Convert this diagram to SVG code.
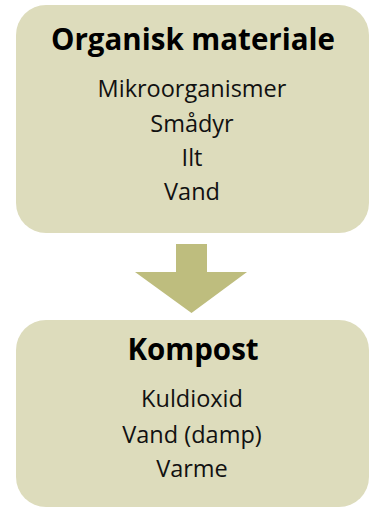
<svg xmlns="http://www.w3.org/2000/svg" width="370" height="508" viewBox="0 0 370 508">
<style>
.box{fill:#dddcbc}
.arrow{fill:#bebd7e}
.t{font-family:"Open Sans","Liberation Sans",sans-serif;font-weight:bold;font-size:29.5px;fill:#000;text-anchor:middle}
.b{font-family:"Open Sans","Liberation Sans",sans-serif;font-size:23.5px;fill:#111;text-anchor:middle}
</style>
<g id="node-organisk">
<rect class="box" x="16" y="5" width="353" height="228" rx="30" ry="30"/>
<text class="t" x="193" y="50">Organisk materiale</text>
<text class="b" x="192" y="97">Mikroorganismer</text>
<text class="b" x="192" y="132">Smådyr</text>
<text class="b" x="192" y="166">Ilt</text>
<text class="b" x="192" y="200">Vand</text>
</g>
<g id="connectors">
<polygon class="arrow" points="176,244 207,244 207,272 247,272 191.5,313 135,272 176,272"/>
</g>
<g id="node-kompost">
<rect class="box" x="16" y="320" width="353" height="187" rx="30" ry="30"/>
<text class="t" x="193" y="360">Kompost</text>
<text class="b" x="192" y="407">Kuldioxid</text>
<text class="b" x="192" y="443">Vand (damp)</text>
<text class="b" x="192" y="477">Varme</text>
</g>
</svg>
